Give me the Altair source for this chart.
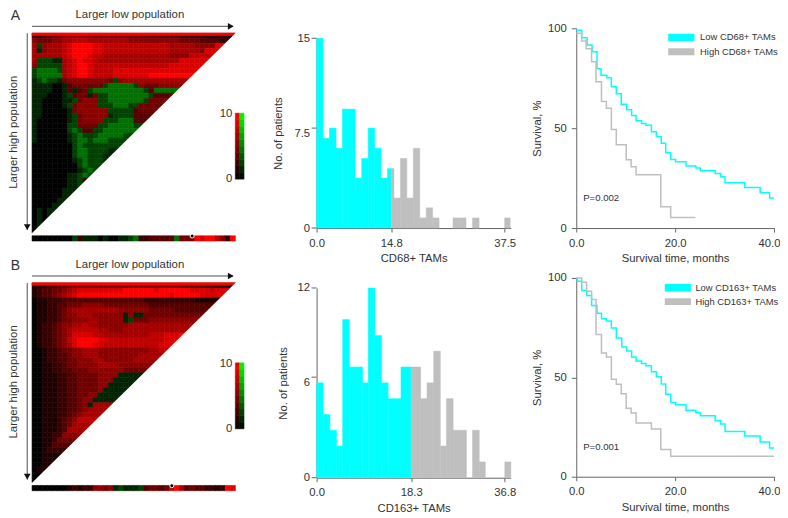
import altair as alt
import pandas as pd

FONT = "Liberation Sans"
CYAN = "#00ffff"
GREY = "#bfbfbf"
INK = "#333333"
AXIS = "#666666"

# --- heat map readings: one string per row, digits = red level, letters = green level
LEVELS = {"0": 0, "1": 1.2, "2": 2.2, "3": 3.3, "4": 4.4, "5": 5.5, "6": 6.5, "7": 7.5, "8": 8.6, "9": 10,
          "a": -1.4, "b": -2.6, "c": -4.4, "d": -5.2, "e": -6.0}

heat_a = [
    "2233445555554444444444333333322222111100",
    "5444556677766666666555555555544443333228",
    "6b56667899998877777777777776666655558",
    "6a566678999988777777777777766666658",
    "66666678999877666666666666655557",
    "6bbbaa678988766666666666666668",
    "5bbbbb6789987777777777777778",
    "bccccb67899877778888888888",
    "bccccc678998777788888889",
    "abcbba4555555554b56666666",
    "aaaa00a3444444bcccccb54445",
    "aaaa00a3a34bccccccccccb3c",
    "aaa000ab344a4bbccccccccb33",
    "aa0000aab4555bbcccccccb44",
    "aa0000ab45555bbbcccbb444",
    "aa00000a4555555bbbbb3444",
    "aa00000ab455555abbbb333",
    "a000000ab45555bbbccc33",
    "a000000bb4444bbcccccb",
    "a000000bcb33bbccccccc",
    "a000000abcbbbcccccb",
    "a000000abccbcccbbb",
    "00000000bcbbbbbbb",
    "00000000bccbbbbaa",
    "00000000bccbbbaa",
    "00000000abcbbbaa",
    "000000000bcbbba",
    "000000000abcb0",
    "0000000aabcb2",
    "0000000aab22",
    "0000000aab3a",
    "000000aaa2a",
    "000000aab3",
    "00000aaaa",
    "0000aaaa",
    "0a0aaa",
    "0a0aa",
    "0a0a",
    "0a0",
    "0a",
]
strip_a = "00000000b2aaa0a00aabc2233333c44498997529"

heat_b = [
    "1112233444444444444444444444433332221100",
    "1233445678888888889999998999999888878",
    "1233456789999999999999999998999998",
    "0112223333333333333333222222222211",
    "0112233444555544444444433333333",
    "01122345666666666555555444443",
    "011223455666555555a5aa4444444",
    "011223445556655555ab4445555",
    "012234556676655555566666",
    "01223456777776655566666",
    "012234568888776666666667778889",
    "012234578999988777777777778889",
    "01223456899988777777777778889",
    "001223445566655555555556677",
    "00122334556665555555566",
    "0012233445556655555566",
    "001122344555566665555",
    "0011223344455555554444",
    "00111223344445555aaaaaaa",
    "0011122334444555aaaaaa",
    "001112233444455aaaaa",
    "00111223344445aaaaa",
    "0011122334455aaa",
    "001112233455aa",
    "00111223345a6",
    "001112233456",
    "00111223456",
    "0011123457",
    "001112346",
    "00111236",
    "0011225",
    "001124",
    "00113",
    "0012",
    "0011",
    "001",
    "001",
    "01",
    "0",
    "0",
]
strip_b = "00000001212255 45abaaab34434796343322 1298".replace(" ", "")

dot_a = 31.5
dot_b = 27.5
bar_levels = [0, 1, 2, 3, 4, 5, 6, 7, 8, 9, 10]

# --- histogram readings
hist_a_low_x0 = [0, 1.29, 2.57, 3.86, 5.14, 6.43, 7.71, 9.0, 10.29, 11.57, 12.86, 14.14]
hist_a_low_x1 = [1.29, 2.57, 3.86, 5.14, 6.43, 7.71, 9.0, 10.29, 11.57, 12.86, 14.14, 14.9]
hist_a_low_y = [15.0, 7.1, 7.9, 6.3, 9.4, 9.4, 3.95, 5.5, 7.9, 6.3, 3.95, 4.7]
hist_a_high_x0 = [14.9, 15.43, 16.71, 18.0, 19.29, 20.57, 21.86, 23.14, 27.2, 28.5, 31.1, 37.5]
hist_a_high_x1 = [15.43, 16.71, 18.0, 19.29, 20.57, 21.86, 23.14, 24.43, 28.5, 29.8, 32.4, 38.6]
hist_a_high_y = [4.7, 2.37, 5.5, 2.37, 6.3, 0.8, 1.6, 0.8, 0.8, 0.8, 0.8, 0.8]

hist_b_low_x0 = [0, 1.3, 2.6, 3.9, 5.1, 6.4, 9.0, 10.1, 11.4, 12.7, 14.0, 16.5]
hist_b_low_x1 = [1.3, 2.6, 3.9, 5.1, 6.4, 9.0, 10.1, 11.4, 12.7, 14.0, 16.5, 18.5]
hist_b_low_y = [6, 4, 3, 2, 10, 7, 6, 12, 9, 6, 5, 7]
hist_b_high_x0 = [18.5, 20.35, 21.6, 22.9, 24.2, 25.4, 26.7, 30.5, 31.8, 36.8]
hist_b_high_x1 = [20.35, 21.6, 22.9, 24.2, 25.4, 26.7, 29.3, 31.8, 33.0, 38.0]
hist_b_high_y = [7, 5, 6, 8, 2, 5, 3, 3, 1, 1]

# --- survival readings
km_a_low_t = [0, 1.1, 2.2, 3.2, 4.2, 5.0, 6.2, 7.1, 8.1, 9.1, 10.2, 11.2, 12.1, 13.2, 14.1, 15.2, 16.2, 17.2, 18.1,
              19.1, 20.1, 22.2, 24.2, 25.1, 28.1, 29.2, 30.1, 34.1, 37.2, 39.1, 40]
km_a_low_s = [99, 95.3, 91.7, 88.2, 79.8, 76.5, 75.2, 70.7, 67.2, 62, 59.2, 56.3, 53.7, 52.3, 51.5, 48.2, 45.8, 42.5,
              37.7, 34.3, 33.2, 31, 30, 28.7, 27.3, 25.7, 22.7, 20.3, 17.7, 15, 15]
km_a_high_t = [0, 1.1, 2.0, 3.1, 4.0, 5.1, 6.1, 7.1, 8.1, 10.1, 11.1, 12.1, 17.1, 19.1, 24.1]
km_a_high_s = [97.5, 93.7, 89.8, 83.3, 73.3, 63.3, 60, 49.3, 41.7, 34.2, 30.7, 26.7, 10.7, 5.3, 5.3]
km_b_low_t = [0, 0.2, 1.1, 2.1, 3.1, 4.2, 5.1, 6.1, 7.1, 8.1, 9.2, 10.2, 11.2, 12.1, 13.2, 14.1, 15.2, 16.2, 17.2,
              18.1, 19.1, 20.1, 22.2, 24.2, 25.1, 28.1, 29.2, 30.1, 34.1, 37.2, 39.1, 40]
km_b_low_s = [100, 98.3, 93.7, 91.2, 86.2, 82.3, 79.5, 78.3, 74.8, 69.8, 65.3, 63.3, 60.3, 58.2, 57, 55.8, 52.8, 50.3,
              46.7, 41.5, 37.3, 36.2, 33.5, 32.2, 30.7, 28.3, 26.5, 22.8, 20.5, 17.5, 14.5, 14.5]
km_b_high_t = [0, 1.1, 2.1, 3.1, 4.0, 5.1, 6.1, 7.1, 8.1, 9.1, 10.1, 11.1, 12.1, 15.2, 17.1, 19.1, 40]
km_b_high_s = [100, 97.8, 93.3, 89.2, 71.5, 62.3, 60.3, 49, 46.5, 41.7, 34.5, 32, 27, 24, 13.7, 10.3, 10.3]


HX = alt.Scale(domain=[-1, 41.7], range=[0, 217.3], nice=False, zero=False)
HY = alt.Scale(domain=[-1, 41.8], range=[0, 214], nice=False, zero=False)
COLOR = alt.Scale(domain=[-10, 0, 10], range=["#00ff00", "#000000", "#ff0000"], interpolate="rgb")


def hx(f="x"):
    return alt.X(f"{f}:Q", scale=HX, axis=None)


def hy(f="y"):
    return alt.Y(f"{f}:Q", scale=HY, axis=None)


def rect_layer(df):
    return alt.Chart(df).mark_rect(strokeWidth=0.6).encode(
        x=hx("x0"), x2="x1", y=hy("y0"), y2="y1",
        color=alt.Color("v:Q", scale=COLOR, legend=None),
        stroke=alt.Stroke("v:Q", scale=COLOR, legend=None),
    )


def text_layer(rows, **kw):
    return alt.Chart(pd.DataFrame(rows)).mark_text(font=FONT, color=INK, **kw).encode(
        x=hx(), y=hy(), text="t:N")


def heat_panel(letter, rows, strip, dot):
    cells = []
    for j, row in enumerate(rows):
        need = min(41 - j, 40)
        row = (row + row[-1] * need)[:need]
        for c, ch in enumerate(row):
            cells.append(dict(x0=c, x1=c + 1, y0=j, y1=j + 1, v=LEVELS[ch]))
    top_line = [dict(x0=0, x1=40, y0=-0.05, y1=0.45, v=10)]
    tri = pd.DataFrame(dict(x=[0, 40.4], y=[40, -0.4], y2=[40.35, 40.35]))
    white = alt.Chart(tri).mark_area(color="white", opacity=1).encode(
        x=hx(), y=hy(), y2="y2:Q")
    st = [dict(x0=c, x1=c + 1, y0=40.55, y1=41.6, v=LEVELS[ch]) for c, ch in enumerate(strip)]
    rx = []
    for k in range(len(bar_levels) - 1):
        lo, hi = bar_levels[k], bar_levels[k + 1]
        mid = (lo + hi) / 2
        y0, y1 = 29.2 - hi * 1.32, 29.2 - lo * 1.32
        rx.append(dict(x0=40.0, x1=40.85, y0=y0, y1=y1, v=mid))
        rx.append(dict(x0=40.85, x1=41.7, y0=y0, y1=y1, v=-mid))
    rule_h = alt.Chart(pd.DataFrame(dict(x=[0], x2=[39.5], y=[-1.4]))).mark_rule(color="#222222", strokeWidth=0.8).encode(
        x=hx(), x2="x2:Q", y=hy())
    rule_v = alt.Chart(pd.DataFrame(dict(x=[-0.95], y=[0], y2=[39.4]))).mark_rule(color="#222222", strokeWidth=0.8).encode(
        x=hx(), y=hy(), y2="y2:Q")
    head_h = alt.Chart(pd.DataFrame(dict(x=[39.1], y=[-1.4]))).mark_point(
        shape="triangle-right", filled=True, color="#111111", size=45, opacity=1).encode(x=hx(), y=hy())
    head_v = alt.Chart(pd.DataFrame(dict(x=[-0.95], y=[38.8]))).mark_point(
        shape="triangle-down", filled=True, color="#111111", size=45, opacity=1).encode(x=hx(), y=hy())
    marker = alt.Chart(pd.DataFrame(dict(x=[dot], y=[40.6]))).mark_point(
        filled=True, color="black", stroke="white", strokeWidth=1, size=16, opacity=1).encode(x=hx(), y=hy())
    return alt.layer(
        rect_layer(pd.DataFrame(cells)), rect_layer(pd.DataFrame(top_line)), white,
        rect_layer(pd.DataFrame(st)), rect_layer(pd.DataFrame(rx)),
        rule_h, rule_v, head_h, head_v, marker,
        text_layer([dict(x=19.25, y=-3.6, t="Larger low population")], fontSize=11.4),
        text_layer([dict(x=-3.5, y=19.8, t="Larger high population")], fontSize=11.4, angle=270),
        text_layer([dict(x=-4.2, y=-3.4, t=letter)], fontSize=14, align="left"),
        text_layer([dict(x=39.4, y=16.2, t="10"), dict(x=39.4, y=29.2, t="0")], fontSize=11.4, align="right"),
    ).properties(width=289.7, height=214)


def hist_panel(lowx0, lowx1, lowy, hix0, hix1, hiy, xmax, ymax, xticks, xlabels, ylabels, ytick_pos, xtitle, ytitlex, title_y):
    sx = alt.Scale(domain=[0, xmax], range=[0, 194.3], nice=False, zero=False)
    sy = alt.Scale(domain=[0, ymax], range=[200, 10], nice=False, zero=False)
    expr = " : ".join(f"datum.value == {a} ? '{b}'" for a, b in zip(xticks, xlabels)) + " : ''"
    xa = alt.Axis(values=xticks, labelExpr=expr, title=xtitle, grid=False, tickSize=4, titleY=title_y,
                  titleBaseline="middle", labelPadding=5)
    ya = alt.Axis(values=ylabels, labelExpr="'' + datum.value", title="No. of patients", grid=False, ticks=False,
                  labelPadding=7, titleX=ytitlex, titleBaseline="middle")
    low = alt.Chart(pd.DataFrame(dict(a=lowx0, b=lowx1, h=lowy))).mark_rect(color=CYAN, stroke=CYAN, strokeWidth=0.5).encode(
        x=alt.X("a:Q", scale=sx, axis=xa), x2="b:Q", y=alt.Y("h:Q", scale=sy, axis=ya), y2=alt.datum(0))
    high = alt.Chart(pd.DataFrame(dict(a=hix0, b=hix1, h=hiy))).mark_rect(color=GREY, stroke=GREY, strokeWidth=0.5).encode(
        x=alt.X("a:Q", scale=sx, axis=xa), x2="b:Q", y=alt.Y("h:Q", scale=sy, axis=ya), y2=alt.datum(0))
    ticks = alt.Chart(pd.DataFrame(dict(p=ytick_pos))).mark_rule(color=AXIS, strokeWidth=1).encode(
        x=alt.value(-5), x2=alt.value(0), y=alt.Y("p:Q", scale=sy, axis=ya))
    return alt.layer(low, high, ticks).properties(width=260, height=200)


def km_panel(lt, ls, ht, hs, low_name, high_name, p, sw_x, txt_x, sw_y, bottom, title_y):
    sx = alt.Scale(domain=[0, 40], range=[0, 198], nice=False, zero=False)
    sy = alt.Scale(domain=[0, 100], range=[bottom, 0], nice=False, zero=False)
    xa = alt.Axis(values=[0, 20, 40], format=".1f", title="Survival time, months", grid=False, tickSize=4,
                  titleY=title_y, titleBaseline="middle", labelPadding=5, offset=bottom - 200,
                  labelOffset={"condition": {"test": "datum.value == 40", "value": -5}, "value": 0})
    ya = alt.Axis(values=[0, 50, 100], title="Survival, %", grid=False, tickSize=5, labelPadding=5,
                  titleX=-39, titleBaseline="middle")
    X = lambda f: alt.X(f, scale=sx, axis=xa)
    Y = lambda f: alt.Y(f, scale=sy, axis=ya)
    high = alt.Chart(pd.DataFrame(dict(t=ht, s=hs))).mark_line(color=GREY, strokeWidth=1.5, interpolate="step-after").encode(
        x=X("t:Q"), y=Y("s:Q"))
    low = alt.Chart(pd.DataFrame(dict(t=lt, s=ls))).mark_line(color=CYAN, strokeWidth=1.5, interpolate="step-after").encode(
        x=X("t:Q"), y=Y("s:Q"))
    sw = []
    for colour, (y0, y1) in zip([CYAN, GREY], sw_y):
        sw.append(alt.Chart(pd.DataFrame(dict(a=[sw_x[0]], b=[sw_x[1]], c=[y0], d=[y1]))).mark_rect(color=colour).encode(
            x=X("a:Q"), x2="b:Q", y=Y("c:Q"), y2="d:Q"))
    names = pd.DataFrame(dict(t=[txt_x, txt_x], s=[sum(sw_y[0]) / 2, sum(sw_y[1]) / 2], n=[low_name, high_name]))
    labels = alt.Chart(names).mark_text(font=FONT, fontSize=9.4, color=INK, align="left").encode(
        x=X("t:Q"), y=Y("s:Q"), text="n:N")
    pval = alt.Chart(pd.DataFrame(dict(t=[1.4], s=[14.8], n=[p]))).mark_text(font=FONT, fontSize=9.6, color=INK, align="left").encode(
        x=X("t:Q"), y=Y("s:Q"), text="n:N")
    return alt.layer(low, high, *sw, labels, pval).properties(width=198, height=200)


chart = alt.concat(
    heat_panel("A", heat_a, strip_a, dot_a),
    hist_panel(hist_a_low_x0, hist_a_low_x1, hist_a_low_y, hist_a_high_x0, hist_a_high_x1, hist_a_high_y,
               38.7, 15, [0, 14.9, 37.5], ["0.0", "14.8", "37.5"], [0, 7.5, 15], [0, 7.9, 15], "CD68+ TAMs", -38, 31),
    km_panel(km_a_low_t, km_a_low_s, km_a_high_t, km_a_high_s, "Low CD68+ TAMs", "High CD68+ TAMs", "P=0.002",
             (18.6, 23.9), 25.05, [(97.3, 93.6), (90, 86.5)], 200, 31),
    heat_panel("B", heat_b, strip_b, dot_b),
    hist_panel(hist_b_low_x0, hist_b_low_x1, hist_b_low_y, hist_b_high_x0, hist_b_high_x1, hist_b_high_y,
               37.95, 12, [0, 18.5, 36.8], ["0.0", "18.3", "36.8"], [0, 6, 12], [0, 6.36, 12], "CD163+ TAMs", -33, 31),
    km_panel(km_b_low_t, km_b_low_s, km_b_high_t, km_b_high_s, "Low CD163+ TAMs", "High CD163+ TAMs", "P=0.001",
             (17.9, 23.2), 24.1, [(97, 93.2), (89.8, 86.4)], 199, 31),
    columns=3,
    bounds="flush",
    align="each",
    spacing={"row": 36, "column": 0},
).properties(
    padding={"left": 0, "top": 1, "right": 0, "bottom": 0},
).configure_view(stroke=None).configure_axis(
    domainColor=AXIS, tickColor=AXIS, domainWidth=1, tickWidth=1,
    labelFont=FONT, titleFont=FONT, labelFontSize=11.3, titleFontSize=11.3,
    labelColor=INK, titleColor=INK, titleFontWeight="normal", labelFlush=False, labelOverlap=False,
)

chart.save("out.html", embed_options={"renderer": "svg", "actions": False})
